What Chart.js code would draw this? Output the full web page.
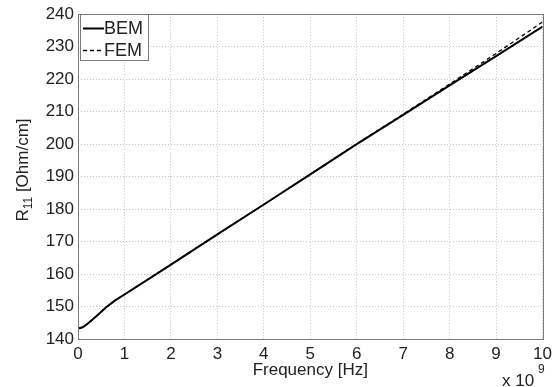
<!DOCTYPE html>
<html>
<head>
<meta charset="utf-8">
<script src="https://cdn.jsdelivr.net/npm/chart.js@4/dist/chart.umd.min.js"></script>
<style>
  html, body { margin:0; padding:0; background:#fff; }
  #wrap { width:557px; height:387px; }
</style>
</head>
<body>
<div id="wrap"><canvas id="chart" width="557" height="387"></canvas></div>
<script>
// frequency in units of 1e9 Hz
const frequency = [0, 0.1, 0.2, 0.4, 0.6, 0.8, 1, 1.5, 2, 3, 4, 5, 6, 7, 8, 9, 10];
const bemValues = [143.2, 143.6, 144.6, 147.1, 149.7, 151.9, 153.7, 158.3, 162.9, 172.2, 181.4, 190.7, 200, 209, 218.1, 227.1, 236.2];
const femValues = [143.2, 143.6, 144.6, 147.1, 149.7, 151.9, 153.7, 158.3, 162.9, 172.2, 181.4, 190.7, 200.1, 209.2, 218.5, 227.9, 237.6];
const seriesNames = ["BEM", "FEM"];
const xTicks = [0, 1, 2, 3, 4, 5, 6, 7, 8, 9, 10];
const yTicks = [140, 150, 160, 170, 180, 190, 200, 210, 220, 230, 240];
const xTitle = "Frequency [Hz]";

const FONT = "'Liberation Sans', Arial, Helvetica, sans-serif";
const TEXT = "#222";

function toPoints(values){
  return frequency.map((f,i) => ({ x:f, y:values[i] }));
}

const framePlugin = {
  id:"frame",
  afterDraw(chart){
    const { ctx, chartArea:a } = chart;
    ctx.save();

    // axes box
    ctx.strokeStyle = "#7a7a7a";
    ctx.lineWidth = 1;
    ctx.strokeRect(Math.round(a.left) + 0.5, Math.round(a.top) + 0.5,
      Math.round(a.right - a.left), Math.round(a.bottom - a.top));

    const big = "17px " + FONT, small = "12px " + FONT;

    // x title
    ctx.fillStyle = TEXT;
    ctx.font = big;
    ctx.textAlign = "center";
    ctx.textBaseline = "middle";
    ctx.fillText(xTitle, (a.left + a.right) / 2, 370);

    // y title with subscript
    ctx.textBaseline = "alphabetic";
    ctx.textAlign = "left";
    ctx.font = big;
    const wR = ctx.measureText("R").width;
    const wRest = ctx.measureText(" [Ohm/cm]").width;
    ctx.font = small;
    const wSub = ctx.measureText("11").width;
    const total = wR + wSub + wRest;
    ctx.translate(28, 170);
    ctx.rotate(-Math.PI / 2);
    let x = -total / 2;
    ctx.font = big;
    ctx.fillText("R", x, 0);
    x += wR;
    ctx.font = small;
    ctx.fillText("11", x, 4);
    x += wSub;
    ctx.font = big;
    ctx.fillText(" [Ohm/cm]", x, 0);
    ctx.setTransform(1, 0, 0, 1, 0, 0);

    // x exponent
    ctx.font = big;
    ctx.fillText("x 10", 502, 386);
    ctx.font = small;
    ctx.fillText("9", 538, 373);

    // legend
    const lx = 80.5, ly = 14.5, lw = 68, lh = 46;
    ctx.fillStyle = "#fff";
    ctx.fillRect(lx, ly, lw, lh);
    ctx.strokeStyle = "#7a7a7a";
    ctx.strokeRect(lx, ly, lw, lh);
    chart.data.datasets.forEach((ds,i) => {
      const yy = 28.5 + i * 22;
      ctx.strokeStyle = "#000";
      ctx.lineWidth = ds.borderWidth;
      ctx.setLineDash(ds.borderDash || []);
      ctx.beginPath();
      ctx.moveTo(83, yy);
      ctx.lineTo(104, yy);
      ctx.stroke();
      ctx.setLineDash([]);
      ctx.fillStyle = TEXT;
      ctx.font = "18px " + FONT;
      ctx.textBaseline = "middle";
      ctx.fillText(ds.label, 104, yy + 1);
    });

    ctx.restore();
  }
};

new Chart(document.getElementById("chart"),{
  type:"line",
  data:{
    datasets:[
      {
        label:seriesNames[0],
        data:toPoints(bemValues),
        borderColor:"#000",
        borderWidth:2,
        pointRadius:0,
        tension:0,
        fill:false
      },
      {
        label:seriesNames[1],
        data:toPoints(femValues),
        borderColor:"#000",
        borderWidth:1.3,
        borderDash:[4,3],
        pointRadius:0,
        tension:0,
        fill:false
      }
    ]
  },
  options:{
    responsive:false,
    animation:false,
    layout:{ padding:{ left:0, right:14, top:12, bottom:0 } },
    plugins:{
      legend:{ display:false },
      tooltip:{ enabled:false }
    },
    scales:{
      x:{
        type:"linear",
        min:xTicks[0],
        max:xTicks[xTicks.length - 1],
        afterBuildTicks(scale){ scale.ticks = xTicks.map(v => ({ value:v })); },
        afterFit(scale){ scale.height = 48; },
        grid:{ color:"#c4c4c4", lineWidth:1, drawTicks:false },
        border:{ display:false, dash:[1,2] },
        ticks:{ color:TEXT, padding:5, maxRotation:0, font:{ family:FONT, size:17 } }
      },
      y:{
        type:"linear",
        min:yTicks[0],
        max:yTicks[yTicks.length - 1],
        afterBuildTicks(scale){ scale.ticks = yTicks.map(v => ({ value:v })); },
        afterFit(scale){ scale.width = 78; },
        grid:{ color:"#c4c4c4", lineWidth:1, drawTicks:false },
        border:{ display:false, dash:[1,2] },
        ticks:{ color:TEXT, padding:4, font:{ family:FONT, size:17 } }
      }
    }
  },
  plugins:[framePlugin]
});
</script>
</body>
</html>
